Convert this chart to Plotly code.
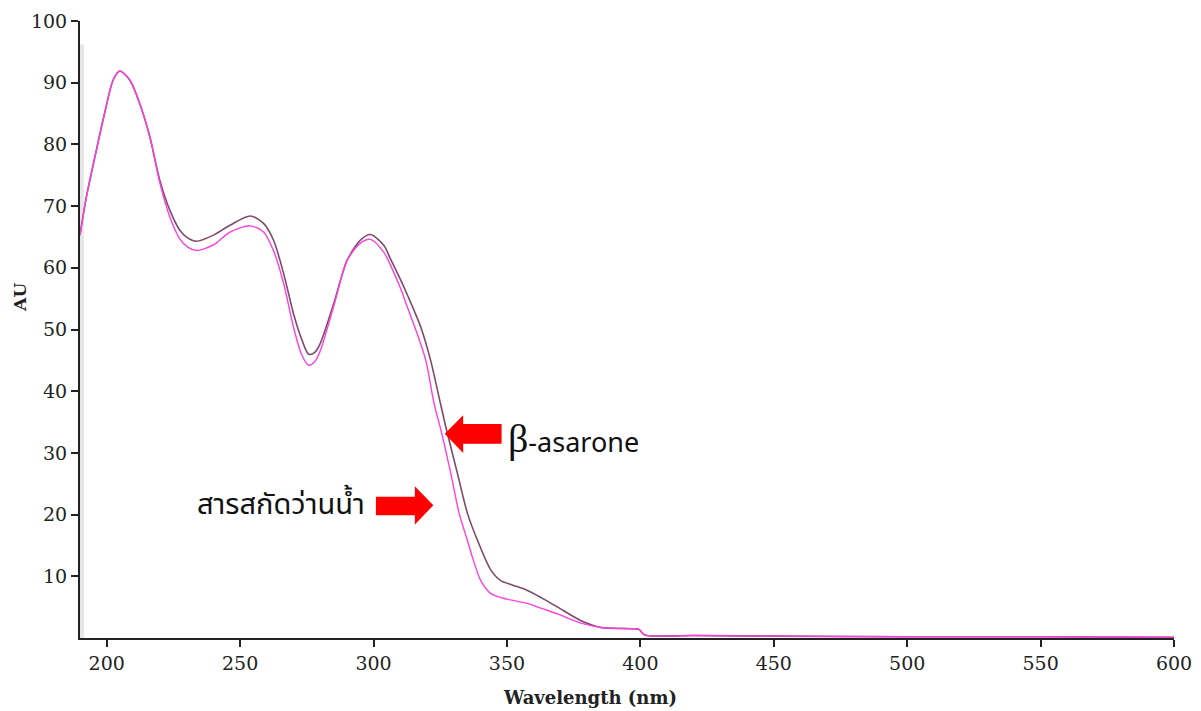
import plotly.graph_objects as go

# beta-asarone (dark mauve)
beta_wl = [190, 192.4, 196.1, 199.2, 202.4, 204.9, 208.7, 212.4, 216.2, 219.9,
           223.7, 227.4, 230.5, 233.7, 240.0, 246.2, 253.8, 258.8, 262.5, 266.3,
           270.0, 273, 275.7, 278, 280.1, 285.1, 290.1, 295.1, 298.9, 303.9,
           306.4, 310.2, 312.7, 317.7, 321.4, 325.2, 327.1, 331.5, 335.2, 339.0,
           344.0, 347.7, 352, 357.7, 363, 369.0, 377.8, 385.3, 397.8, 399.5,
           401.6, 420, 450, 500, 550, 600]
beta_au = [65.3, 71.5, 79.0, 85.0, 90.4, 91.9, 90.4, 86.6, 81.2, 74.2,
           69.3, 66.1, 64.8, 64.3, 65.3, 66.9, 68.4, 67.2, 64.5, 59.1,
           52.6, 48.5, 46.0, 46.3, 47.8, 54.2, 61.2, 64.5, 65.4, 63.6,
           61.4, 58.0, 55.6, 50.4, 45.0, 37.8, 34.2, 26.6, 20.2, 15.8,
           11.0, 9.3, 8.6, 7.7, 6.5, 5.0, 2.8, 1.7, 1.5, 1.4,
           0.5, 0.4, 0.3, 0.2, 0.2, 0.1]

# water extract (magenta)
ext_wl = [190, 192.4, 196.1, 199.2, 202.4, 204.9, 208.7, 212.4, 216.2, 219.9,
          223.7, 227.4, 230.5, 233.7, 240.0, 246.2, 253.8, 258.8, 262.5, 266.3,
          270.0, 273, 275.7, 278, 280.1, 285.1, 290.1, 295.1, 298.9, 303.9,
          306.4, 310.2, 312.7, 315.8, 319.6, 322.7, 325.2, 329.0, 332.1, 335.2,
          337.5, 340.2, 344.0, 350, 357.7, 363, 369.0, 377.8, 385.3, 397.8,
          399.5, 401.6, 420, 450, 500, 550, 600]
ext_au = [65.3, 71.5, 79.0, 85.0, 90.4, 91.9, 90.4, 86.6, 81.2, 73.8,
          68.2, 64.7, 63.3, 62.8, 63.7, 65.8, 66.8, 65.8, 62.8, 57.5,
          50.4, 46.0, 44.2, 44.8, 46.6, 53.8, 61.2, 64.0, 64.6, 62.5,
          60.4, 56.6, 53.6, 50.0, 45.0, 38.0, 33.8, 26.6, 20.2, 15.8,
          12.5, 9.3, 7.2, 6.3, 5.6, 4.8, 3.9, 2.4, 1.7, 1.5,
          1.4, 0.5, 0.4, 0.3, 0.2, 0.2, 0.1]

x_ticks = [200, 250, 300, 350, 400, 450, 500, 550, 600]
y_ticks = [10, 20, 30, 40, 50, 60, 70, 80, 90, 100]

fig = go.Figure()
fig.add_trace(go.Scatter(x=beta_wl, y=beta_au, mode="lines",
                         line=dict(color="#7d4a6c", width=1.6, shape="spline", smoothing=0.8),
                         name="β-asarone", showlegend=False))
fig.add_trace(go.Scatter(x=ext_wl, y=ext_au, mode="lines",
                         line=dict(color="#ff3fdc", width=1.4, shape="spline", smoothing=0.8),
                         name="สารสกัดว่านน้ำ", showlegend=False))

# block arrows (data coordinates)
arrow1 = "M 326.7 33.1 L 333.6 36.1 L 333.6 34.7 L 348.0 34.7 L 348.0 31.5 L 333.6 31.5 L 333.6 30.0 Z"
arrow2 = "M 322.4 21.5 L 315.5 24.6 L 315.5 22.9 L 300.9 22.9 L 300.9 19.9 L 315.5 19.9 L 315.5 18.4 Z"
for p in (arrow1, arrow2):
    fig.add_shape(type="path", path=p, xref="x", yref="y",
                  fillcolor="#ff0000", line=dict(width=0))

# faint frame remnant at left
fig.add_shape(type="line", xref="x", yref="y", x0=190.7, x1=190.7, y0=0, y1=96.2,
              line=dict(color="#e6e6e6", width=4), layer="below")

fig.add_annotation(x=349.6, y=32.3, xref="x", yref="y", xanchor="left", yanchor="middle",
                   text='<span style="font-family:Liberation Serif;font-size:40px">β</span>-asarone',
                   showarrow=False, font=dict(family="Noto Sans, Open Sans, sans-serif", size=27, color="#111"))
fig.add_annotation(x=297.5, y=21.6, xref="x", yref="y", xanchor="right", yanchor="middle",
                   text="สารสกัดว่านน้ำ", showarrow=False,
                   font=dict(family="Noto Sans Thai, Tahoma, Noto Sans, sans-serif", size=29, color="#111"))

fig.add_annotation(x=0.466, y=-0.097, xref="paper", yref="paper", xanchor="center", yanchor="middle",
                   text="<b>Wavelength (nm)</b>", showarrow=False,
                   font=dict(family="DejaVu Serif", size=18, color="#222"))
fig.add_annotation(x=-0.055, y=0.553, xref="paper", yref="paper", xanchor="center", yanchor="middle",
                   text="<b>AU</b>", textangle=-90, showarrow=False,
                   font=dict(family="DejaVu Serif", size=17, color="#222"))

fig.update_xaxes(range=[190, 600], tickvals=x_ticks, ticks="outside", ticklen=7, tickwidth=2,
                 tickcolor="#222", showline=True, linecolor="#222", linewidth=2, showgrid=False,
                 zeroline=False, automargin=False,
                 tickfont=dict(family="DejaVu Serif", size=19, color="#222"))
fig.update_yaxes(range=[0, 100], tickvals=y_ticks, ticks="outside", ticklen=7, tickwidth=2,
                 tickcolor="#222", showline=True, linecolor="#222", linewidth=2, showgrid=False,
                 zeroline=False, automargin=False,
                 tickfont=dict(family="DejaVu Serif", size=19, color="#222"))

# page body has an 8px default margin, so the figure is offset by 8px
fig.update_layout(width=1201, height=711, plot_bgcolor="white", paper_bgcolor="white",
                  margin=dict(l=72, r=35, t=13, b=81, autoexpand=False), showlegend=False)

fig.write_html("out.html")
